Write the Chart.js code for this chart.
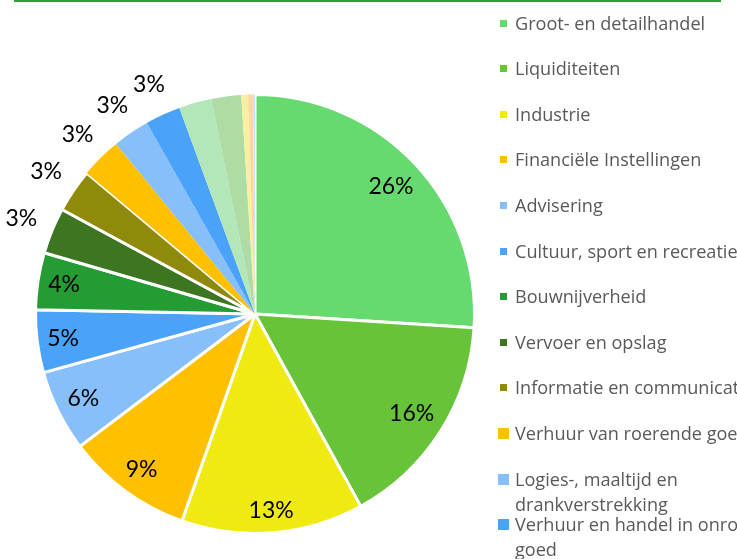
<!DOCTYPE html>
<html>
<head>
<meta charset="utf-8">
<script src="https://cdn.jsdelivr.net/npm/chart.js@4.4.0/dist/chart.umd.min.js"></script>
<style>
  html, body { margin: 0; padding: 0; background: #fff; overflow: hidden; }
  #wrap { position: relative; width: 737px; height: 559px; overflow: hidden; }
  #topline { position: absolute; left: 14px; top: 0; width: 707px; height: 2px; background: #2aa33a; }
  .item { position: absolute; left: 497px; width: 330px; font-family: 'Open Sans', sans-serif; font-size: 18.1px; color: #595959; line-height: 25px; }
  .box { position: absolute; left: 1px; top: 7px; width: 11px; height: 11px; box-sizing: border-box; }
  .txt { display: block; margin-left: 18px; width: 285px; }
</style>
</head>
<body>
<div id="wrap">
  <canvas id="sectorChart" width="737" height="559"></canvas>
  <div id="topline"></div>
  <div id="legend"></div>
</div>
<script>
// sectoren (kloksgewijs vanaf 12 uur)
const sectors = [
  'Groot- en detailhandel',
  'Liquiditeiten',
  'Industrie',
  'Financiële Instellingen',
  'Advisering',
  'Cultuur, sport en recreatie',
  'Bouwnijverheid',
  'Vervoer en opslag',
  'Informatie en communicatie',
  'Verhuur van roerende goederen',
  'Logies-, maaltijd en drankverstrekking',
  'Verhuur en handel in onroerend goed',
  'Gezondheids- en welzijnszorg',
  'Landbouw, bosbouw en visserij',
  'Energievoorziening',
  'Openbaar bestuur',
  'Overige'
];
// aandeel in procenten
const shares = [26, 16, 13.4, 9.3, 6.0, 4.6, 4.2, 3.4, 3.2, 3.0, 2.7, 2.6, 2.4, 2.2, 0.5, 0.35, 0.15];
const colors = [
  '#66d96f', '#67c438', '#eeea12', '#ffc000', '#86bff9', '#4aa2f9',
  '#249c33', '#3d7521', '#8f8a0b', '#ffc000', '#86bff9', '#4aa2f9',
  '#b3e7ba', '#afdca5', '#f7f0a0', '#ffd6a3', '#cfe3f8'
];
// alleen de eerste negen segmenten hebben een witte rand
const borders = [3, 3, 3, 3, 3, 3, 3, 3, 3, 0, 0, 0, 0, 0, 0, 0, 0];

const pctLabels = {
  id: 'pctLabels',
  afterDatasetsDraw(chart) {
    const ctx = chart.ctx;
    const meta = chart.getDatasetMeta(0);
    const total = shares.reduce((a, b) => a + b, 0);
    ctx.save();
    ctx.font = '23px Lato';
    ctx.fillStyle = '#000';
    ctx.textAlign = 'center';
    ctx.textBaseline = 'middle';
    meta.data.forEach((arc, i) => {
      const v = shares[i];
      if (v < 2.5) return;
      const p = arc.getProps(['x', 'y', 'startAngle', 'endAngle', 'outerRadius']);
      const mid = (p.startAngle + p.endAngle) / 2;
      const ux = Math.cos(mid), uy = Math.sin(mid);
      const txt = Math.round(v / total * 100) + '%';
      const w = ctx.measureText(txt).width;
      const ext = Math.abs(ux) * w / 2 + Math.abs(uy) * 11;
      const r = v >= 4 ? p.outerRadius - 9 - ext : p.outerRadius + 33;
      ctx.fillText(txt, p.x + ux * r, p.y + uy * r);
    });
    ctx.restore();
  }
};

new Chart(document.getElementById('sectorChart').getContext('2d'), {
  type: 'pie',
  data: {
    labels: sectors,
    datasets: [{
      data: shares,
      backgroundColor: colors,
      borderColor: '#ffffff',
      borderWidth: borders,
      hoverOffset: 0
    }]
  },
  options: {
    responsive: false,
    animation: false,
    layout: { padding: { left: 34, top: 93, right: 261, bottom: 24 } },
    plugins: {
      legend: { display: false },
      tooltip: { enabled: false }
    }
  },
  plugins: [pctLabels]
});

// legenda
const legend = document.getElementById('legend');
sectors.forEach((name, i) => {
  const item = document.createElement('div');
  item.className = 'item';
  item.style.top = (10.5 + i * 45.6) + 'px';
  const box = document.createElement('span');
  box.className = 'box';
  box.style.background = colors[i];
  if (borders[i] > 0) box.style.border = '2px solid #fff';
  const txt = document.createElement('span');
  txt.className = 'txt';
  txt.textContent = name;
  item.appendChild(box);
  item.appendChild(txt);
  legend.appendChild(item);
});
</script>
</body>
</html>
